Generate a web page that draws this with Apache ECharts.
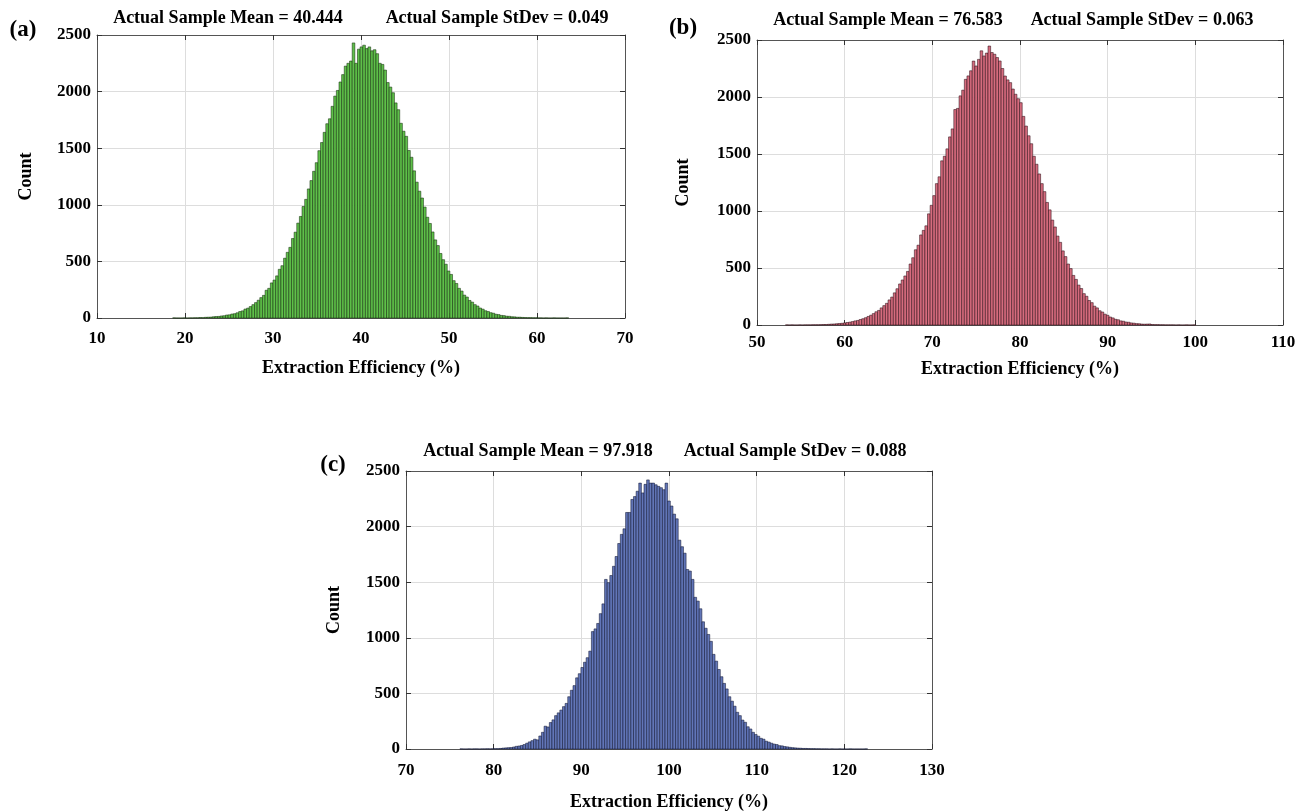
<!DOCTYPE html>
<html>
<head>
<meta charset="utf-8">
<script src="https://cdn.jsdelivr.net/npm/echarts@6/dist/echarts.min.js"></script>
<style>
html,body{margin:0;padding:0;background:#fff;}
#chart{width:1308px;height:812px;}
</style>
</head>
<body>
<div id="chart"></div>
<script>
// ---- data ----
const binWidth = 0.3;
const yTicks = [0, 500, 1000, 1500, 2000, 2500];

// (a)
const binStartA = 18.6;
const countsA = [
  1,0,0,0,1,0,1,1,2,2,
  4,3,6,7,8,11,13,14,18,20,
  26,28,35,38,46,57,63,79,87,101,
  118,136,157,180,200,245,262,310,335,372,
  430,462,528,580,624,702,758,838,897,985,
  1048,1140,1214,1296,1372,1478,1550,1640,1716,1760,
  1870,1960,2010,2085,2150,2225,2250,2270,2430,2250,
  2375,2395,2410,2380,2395,2360,2370,2335,2250,2240,
  2190,2080,2040,1990,1900,1840,1720,1650,1605,1480,
  1420,1300,1200,1120,1060,980,890,835,760,690,
  640,570,515,475,415,385,330,305,262,238,
  202,185,155,140,118,106,88,78,64,57,
  47,42,33,30,23,21,16,15,11,10,
  7,7,5,4,3,3,2,2,1,1,
  0,1,0,0,1,0,0,0,0,1
];
const xTicksA = [10, 20, 30, 40, 50, 60, 70];
const meanA = 'Actual Sample Mean = 40.444';
const sdA = 'Actual Sample StDev = 0.049';

// (b)
const binStartB = 53.25;
const countsB = [
  1,0,1,0,0,1,0,1,1,1,
  2,2,2,3,4,4,6,8,9,11,
  13,15,18,22,25,30,36,40,48,55,
  64,75,86,100,116,128,150,170,190,220,
  245,282,318,360,395,430,470,535,590,660,
  700,790,830,870,975,1050,1135,1240,1300,1440,
  1480,1545,1650,1720,1890,1900,2010,2060,2155,2185,
  2230,2315,2272,2330,2405,2360,2385,2447,2390,2375,
  2346,2316,2250,2184,2150,2126,2070,2024,1985,1950,
  1830,1745,1660,1590,1480,1410,1325,1240,1170,1075,
  1010,920,860,780,725,650,600,535,495,435,
  400,350,320,275,252,215,196,165,150,125,
  114,95,85,70,62,50,46,36,33,26,
  24,18,16,12,11,8,7,8,9,4,
  3,3,2,2,1,1,1,1,0,1,
  0,0,1,0,0,1
];
const xTicksB = [50, 60, 70, 80, 90, 100, 110];
const meanB = 'Actual Sample Mean = 76.583';
const sdB = 'Actual Sample StDev = 0.063';

// (c)
const binStartC = 76.15;
const countsC = [
  1,0,0,1,0,1,1,0,1,1,
  2,1,2,3,3,5,8,10,12,13,
  18,24,27,32,40,52,64,75,88,82,
  117,150,205,198,238,262,300,325,350,381,
  410,470,528,570,640,677,733,780,821,880,
  1056,1080,1129,1217,1305,1525,1496,1560,1643,1731,
  1848,1930,1980,2127,2127,2244,2270,2318,2391,2303,
  2380,2420,2391,2391,2376,2362,2350,2332,2391,2230,
  2185,2112,2070,1878,1819,1761,1614,1600,1525,1364,
  1330,1261,1144,1086,1030,968,851,790,715,650,
  590,540,470,430,385,330,300,260,240,200,
  180,150,130,115,96,88,70,62,52,44,
  40,30,28,22,19,15,12,10,8,7,
  5,5,4,3,3,2,2,1,1,1,
  0,1,0,0,1,0,0,0,1,0,
  0,0,0,0,1
];
const xTicksC = [70, 80, 90, 100, 110, 120, 130];
const meanC = 'Actual Sample Mean = 97.918';
const sdC = 'Actual Sample StDev = 0.088';

const xName = 'Extraction Efficiency (%)';
const yName = 'Count';

// ---- build ----
const FONT = '"Liberation Serif", "Times New Roman", serif';
function toBins(start, counts) {
  return counts.map((c, i) => [start + i * binWidth, start + (i + 1) * binWidth, c]);
}
const panels = [
  {grid:{left:97, top:35, width:528, height:283}, ticks:xTicksA, bins:toBins(binStartA,countsA),
   fill:'#5fc04a', edge:'rgba(18,45,12,0.9)', letter:'(a)', letterPos:[23,30], mean:meanA, sd:sdA,
   meanX:228, sdX:497, titleY:18, nameGap:41, yNameGap:62, xMargin:12},
  {grid:{left:757, top:40, width:526, height:285}, ticks:xTicksB, bins:toBins(binStartB,countsB),
   fill:'#d66c7e', edge:'rgba(45,12,20,0.9)', letter:'(b)', letterPos:[683,28], mean:meanB, sd:sdB,
   meanX:888, sdX:1142, titleY:20, nameGap:35, yNameGap:65, xMargin:9},
  {grid:{left:406, top:471, width:526, height:284}, ticks:xTicksC, bins:toBins(binStartC,countsC),
   fill:'#6276b8', edge:'rgba(14,20,50,0.9)', letter:'(c)', letterPos:[333,465], mean:meanC, sd:sdC,
   meanX:538, sdX:795, titleY:451, nameGap:44, yNameGap:63, xMargin:13}
];

const lblStyle = {fontFamily: FONT, fontWeight: 'bold', fontSize: 17, color: '#000'};
const grids = [], xAxes = [], yAxes = [], series = [], graphics = [];
panels.forEach((p, i) => {
  grids.push(Object.assign({containLabel:false}, p.grid));
  const xmin = p.ticks[0], xmax = p.ticks[p.ticks.length - 1];
  const common = {type:'value', gridIndex:i, min:xmin, max:xmax, interval:10};
  xAxes.push(Object.assign({}, common, {
    position:'bottom',
    axisLine:{show:true, onZero:false, lineStyle:{color:'#555', width:1}},
    axisTick:{show:true, inside:true, length:5, lineStyle:{color:'#333'}},
    axisLabel:Object.assign({margin:p.xMargin, formatter:v => String(v)}, lblStyle),
    splitLine:{show:true, lineStyle:{color:'#dddddd', width:1}},
    name:xName, nameLocation:'middle', nameGap:p.nameGap,
    nameTextStyle:{fontFamily:FONT, fontWeight:'bold', fontSize:18, color:'#000'}
  }));
  xAxes.push(Object.assign({}, common, {
    position:'top',
    axisLine:{show:true, onZero:false, lineStyle:{color:'#555', width:1}},
    axisTick:{show:true, inside:true, length:5, lineStyle:{color:'#333'}},
    axisLabel:{show:false}, splitLine:{show:false}
  }));
  const ycommon = {type:'value', gridIndex:i, min:yTicks[0], max:yTicks[yTicks.length-1], interval:500};
  yAxes.push(Object.assign({}, ycommon, {
    position:'left',
    axisLine:{show:true, onZero:false, lineStyle:{color:'#555', width:1}},
    axisTick:{show:true, inside:true, length:5, lineStyle:{color:'#333'}},
    axisLabel:Object.assign({margin:6, formatter:v => String(v)}, lblStyle),
    splitLine:{show:true, lineStyle:{color:'#dddddd', width:1}},
    name:yName, nameLocation:'middle', nameGap:p.yNameGap, nameRotate:90,
    nameTextStyle:{fontFamily:FONT, fontWeight:'bold', fontSize:18, color:'#000'}
  }));
  yAxes.push(Object.assign({}, ycommon, {
    position:'right',
    axisLine:{show:true, onZero:false, lineStyle:{color:'#555', width:1}},
    axisTick:{show:true, inside:true, length:5, lineStyle:{color:'#333'}},
    axisLabel:{show:false}, splitLine:{show:false}
  }));
  const fill = p.fill, edge = p.edge;
  series.push({
    type:'custom', xAxisIndex:2*i, yAxisIndex:2*i,
    encode:{x:[0,1], y:2},
    data:p.bins,
    renderItem:function(params, api){
      const x0 = api.value(0), x1 = api.value(1), c = api.value(2);
      const a = api.coord([x0, c]);
      const b = api.coord([x1, 0]);
      return {type:'rect', shape:{x:a[0], y:a[1], width:b[0]-a[0], height:b[1]-a[1]},
              style:{fill:fill, stroke:edge, lineWidth:0.6}};
    },
    z:3
  });
  graphics.push({type:'text', x:p.letterPos[0], y:p.letterPos[1],
    style:{text:p.letter, font:'bold 23px ' + FONT, fill:'#000', textAlign:'center', textVerticalAlign:'middle'}});
  graphics.push({type:'text', x:p.meanX, y:p.titleY,
    style:{text:p.mean, font:'bold 18px ' + FONT, fill:'#000', textAlign:'center', textVerticalAlign:'middle'}});
  graphics.push({type:'text', x:p.sdX, y:p.titleY,
    style:{text:p.sd, font:'bold 18px ' + FONT, fill:'#000', textAlign:'center', textVerticalAlign:'middle'}});
});

const chart = echarts.init(document.getElementById('chart'), null, {renderer:'canvas'});
chart.setOption({
  backgroundColor:'#ffffff',
  animation:false,
  grid:grids, xAxis:xAxes, yAxis:yAxes, series:series, graphic:graphics
});
</script>
</body>
</html>
